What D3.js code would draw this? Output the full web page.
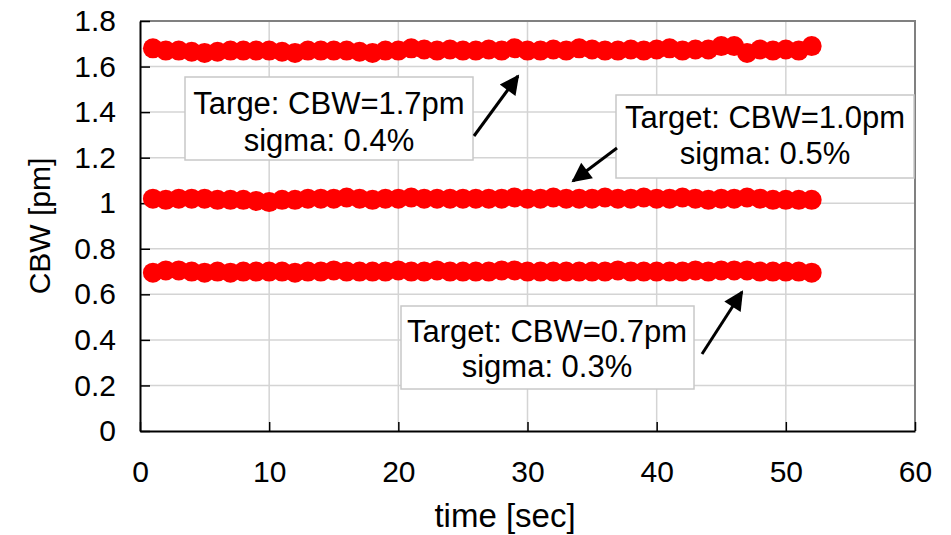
<html>
<head>
    <script src="https://d3js.org/d3.v7.min.js"></script>
    <style>
        body { margin: 0; background: #fff; }
        text { font-family: "Liberation Sans", Arial, sans-serif; }
    </style>
</head>
<body>
    <svg id="s" width="951" height="535"></svg>
    <script>
        // measured time points (sec)
        const times = d3.range(1, 53)

        // CBW readings [pm] per target
        const cbw17 = [1.68,1.67,1.67,1.665,1.66,1.665,1.67,1.67,1.67,1.67,
                       1.665,1.66,1.67,1.67,1.67,1.67,1.665,1.66,1.67,1.67,
                       1.68,1.675,1.67,1.675,1.67,1.67,1.675,1.67,1.68,1.67,
                       1.67,1.675,1.67,1.68,1.675,1.67,1.67,1.675,1.67,1.675,
                       1.68,1.67,1.675,1.675,1.69,1.69,1.66,1.675,1.67,1.675,
                       1.67,1.69]
        const cbw10 = [1.02,1.015,1.02,1.02,1.02,1.015,1.015,1.015,1.01,1.005,
                       1.015,1.015,1.02,1.02,1.02,1.025,1.02,1.015,1.02,1.02,
                       1.025,1.02,1.02,1.02,1.02,1.02,1.02,1.02,1.025,1.02,
                       1.02,1.025,1.02,1.02,1.02,1.025,1.02,1.02,1.025,1.02,
                       1.02,1.025,1.02,1.015,1.02,1.02,1.025,1.02,1.015,1.015,
                       1.015,1.015]
        const cbw07 = [0.695,0.705,0.705,0.7,0.695,0.7,0.695,0.7,0.7,0.7,
                       0.7,0.695,0.7,0.7,0.705,0.7,0.7,0.7,0.7,0.705,
                       0.7,0.7,0.705,0.7,0.7,0.7,0.7,0.705,0.705,0.7,
                       0.7,0.7,0.7,0.7,0.7,0.7,0.705,0.7,0.7,0.7,
                       0.7,0.7,0.705,0.7,0.705,0.705,0.705,0.7,0.7,0.7,
                       0.7,0.695]

        const xTicks = [0, 10, 20, 30, 40, 50, 60]
        const yTicks = [0, 0.2, 0.4, 0.6, 0.8, 1, 1.2, 1.4, 1.6, 1.8]

        const notes = [
            { lines: ["Targe: CBW=1.7pm", "sigma: 0.4%"] },
            { lines: ["Target: CBW=1.0pm", "sigma: 0.5%"] },
            { lines: ["Target: CBW=0.7pm", "sigma: 0.3%"] }
        ]

        const MARGIN = { LEFT: 140, TOP: 21, RIGHT: 36, BOTTOM: 104 }
        const WIDTH = 951 - MARGIN.LEFT - MARGIN.RIGHT
        const HEIGHT = 535 - MARGIN.TOP - MARGIN.BOTTOM
        const FS = "30px"
        const NOTE_FS = "31px"

        const svg = d3.select("svg")

        svg.append("defs").append("marker")
            .attr("id", "head")
            .attr("viewBox", "0 0 10 10")
            .attr("refX", 9).attr("refY", 5)
            .attr("markerWidth", 7.5).attr("markerHeight", 6.5)
            .attr("markerUnits", "strokeWidth")
            .attr("orient", "auto")
            .append("path")
            .attr("d", "M0,0 L10,5 L0,10 Z")
            .attr("fill", "#000")

        const g = svg.append("g")
            .attr("transform", `translate(${MARGIN.LEFT}, ${MARGIN.TOP})`)

        const x = d3.scaleLinear().domain([0, 60]).range([0, WIDTH])
        const y = d3.scaleLinear().domain([0, 1.8]).range([HEIGHT, 0])

        // grid
        g.append("g").selectAll("line")
            .data(xTicks.slice(1, -1))
            .enter().append("line")
            .attr("x1", d => x(d)).attr("x2", d => x(d))
            .attr("y1", 0).attr("y2", HEIGHT)
            .attr("stroke", "#d4d4d4").attr("stroke-width", 1.5)
        g.append("g").selectAll("line")
            .data(yTicks.slice(1, -1))
            .enter().append("line")
            .attr("x1", 0).attr("x2", WIDTH)
            .attr("y1", d => y(d)).attr("y2", d => y(d))
            .attr("stroke", "#d4d4d4").attr("stroke-width", 1.5)

        // frame top/right
        g.append("path")
            .attr("d", `M0,0 H${WIDTH} V${HEIGHT}`)
            .attr("fill", "none")
            .attr("stroke", "#808080").attr("stroke-width", 2)

        // axes
        const xAxis = g.append("g")
            .attr("transform", `translate(0, ${HEIGHT})`)
            .call(d3.axisBottom(x).tickValues(xTicks).tickSize(-9).tickPadding(22).tickSizeOuter(0))
        const yAxis = g.append("g")
            .call(d3.axisLeft(y).tickValues(yTicks).tickFormat(d3.format("")).tickSize(-10).tickPadding(24).tickSizeOuter(0))

        ;[xAxis, yAxis].forEach(a => {
            a.select(".domain").attr("stroke", "#000").attr("stroke-width", 2)
            a.selectAll(".tick line").attr("stroke", "#000").attr("stroke-width", 1.5)
            a.selectAll("text").attr("font-size", FS).attr("fill", "#000")
                .attr("font-family", "Liberation Sans, Arial, sans-serif")
        })
        xAxis.selectAll(".tick text").attr("dy", "0.95em")

        // data
        const series = [cbw17, cbw10, cbw07]
        series.forEach(vals => {
            g.append("g").selectAll("circle")
                .data(times.map((t, i) => ({ t: t, v: vals[i] })))
                .enter().append("circle")
                .attr("cx", d => x(d.t))
                .attr("cy", d => y(d.v))
                .attr("r", 10)
                .attr("fill", "#ff0000")
        })

        // annotations (pixel layout)
        const boxes = [
            { x0: 185, y0: 77, x1: 473, y1: 160, tx: 329, b1: 114, b2: 151, ax: [474, 136, 518, 76] },
            { x0: 616, y0: 95, x1: 914, y1: 178, tx: 765, b1: 128, b2: 164, ax: [617, 148, 573, 181] },
            { x0: 401, y0: 306, x1: 694, y1: 389, tx: 547, b1: 342, b2: 377, ax: [702, 354, 742, 292] }
        ]
        boxes.forEach((b, i) => {
            svg.append("rect")
                .attr("x", b.x0).attr("y", b.y0)
                .attr("width", b.x1 - b.x0).attr("height", b.y1 - b.y0)
                .attr("fill", "#fff").attr("stroke", "#c8c8c8").attr("stroke-width", 1.5)
            svg.append("text").attr("x", b.tx).attr("y", b.b1)
                .attr("text-anchor", "middle").attr("font-size", NOTE_FS)
                .text(notes[i].lines[0])
            svg.append("text").attr("x", b.tx).attr("y", b.b2)
                .attr("text-anchor", "middle").attr("font-size", NOTE_FS)
                .text(notes[i].lines[1])
            svg.append("line")
                .attr("x1", b.ax[0]).attr("y1", b.ax[1])
                .attr("x2", b.ax[2]).attr("y2", b.ax[3])
                .attr("stroke", "#000").attr("stroke-width", 3)
                .attr("marker-end", "url(#head)")
        })

        // axis titles
        svg.append("text")
            .attr("x", 505)
            .attr("y", 527)
            .attr("text-anchor", "middle")
            .attr("font-size", "33px")
            .text("time [sec]")
        svg.append("text")
            .attr("transform", "translate(50, 226) rotate(-90)")
            .attr("text-anchor", "middle")
            .attr("font-size", FS)
            .text("CBW [pm]")
    </script>
</body>
</html>
